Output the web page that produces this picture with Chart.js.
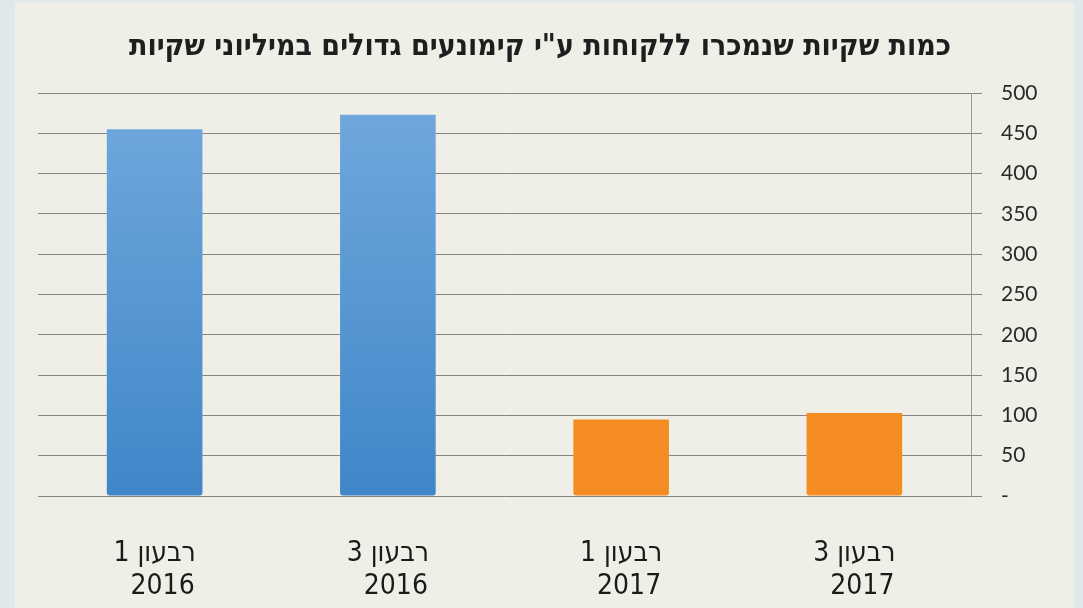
<!DOCTYPE html>
<html>
<head>
<meta charset="utf-8">
<script src="https://cdn.jsdelivr.net/npm/chart.js@4.4.1/dist/chart.umd.min.js"></script>
<style>
  html, body { margin: 0; padding: 0; background: #e1e8ec; }
  #wrap { width: 1083px; height: 608px; }
</style>
</head>
<body>
<div id="wrap"><canvas id="kimonoChart" width="1083" height="608"></canvas></div>
<script>
const chartTitle = 'כמות שקיות שנמכרו ללקוחות ע"י קימונעים גדולים במיליוני שקיות';
// second line padded so it sits right-aligned under the first, as in the source
const quarters = [
  ['רבעון 1', '\u00A0\u00A02016'],
  ['רבעון 3', '\u00A0\u00A02016'],
  ['רבעון 1', '\u00A0\u00A02017'],
  ['רבעון 3', '\u00A0\u00A02017']
];
const years = ['2016', '2016', '2017', '2017'];
const bagsSold = [455, 473, 95, 103];
const yTicks = [0, 50, 100, 150, 200, 250, 300, 350, 400, 450, 500];

const NARROW = '"DejaVu Sans Condensed", "Liberation Sans", sans-serif';

// panel behind the chart
const panelBg = {
  id: 'panelBg',
  beforeDraw(chart) {
    const c = chart.ctx;
    c.save();
    c.fillStyle = '#e1e8ec';
    c.fillRect(0, 0, chart.width, chart.height);
    c.fillStyle = '#efeee7';
    c.fillRect(15, 3, 1059, 605);
    c.restore();
  }
};

function barColor(ctx) {
  const i = ctx.dataIndex;
  if (years[i] === '2017') return '#f68d22';
  const area = ctx.chart.chartArea;
  if (!area) return '#5596d6';
  const g = ctx.chart.ctx.createLinearGradient(0, area.top, 0, area.bottom);
  g.addColorStop(0, '#72a9de');
  g.addColorStop(1, '#3f87c8');
  return g;
}

const ctx = document.getElementById('kimonoChart').getContext('2d');
new Chart(ctx, {
  type: 'bar',
  data: {
    labels: quarters,
    datasets: [{
      data: bagsSold,
      backgroundColor: barColor,
      borderWidth: 0,
      borderRadius: { topLeft: 0, topRight: 0, bottomLeft: 3, bottomRight: 3 },
      borderSkipped: false,
      categoryPercentage: 1,
      barPercentage: 0.41
    }]
  },
  options: {
    responsive: false,
    animation: false,
    layout: { padding: { left: 38, right: 41, top: 0, bottom: 0 } },
    plugins: {
      legend: { display: false },
      tooltip: { enabled: false },
      title: {
        display: true,
        text: chartTitle,
        color: '#1e1e1e',
        font: { family: NARROW, size: 30, weight: 'bold', lineHeight: 1.2 },
        padding: { top: 29, bottom: 28 }
      }
    },
    scales: {
      x: {
        grid: { display: false },
        border: { display: false },
        ticks: {
          color: '#1a1a1a',
          padding: 34,
          maxRotation: 0,
          font: { family: NARROW, size: 28, lineHeight: 1.15 }
        },
        afterFit: s => { s.height = 112; }
      },
      y: {
        position: 'right',
        min: 0,
        max: 500,
        afterBuildTicks: s => { s.ticks = yTicks.map(v => ({ value: v })); },
        grid: { color: '#858585', lineWidth: 1, drawTicks: true, tickLength: 11 },
        border: { display: true, color: '#999999' },
        ticks: {
          color: '#2a2a2a',
          padding: 19,
          font: { family: 'Lato, "Open Sans", sans-serif', size: 21 },
          callback: v => v === 0 ? '-' : v
        },
        afterFit: s => { s.width = 71; }
      }
    }
  },
  plugins: [panelBg]
});
</script>
</body>
</html>
